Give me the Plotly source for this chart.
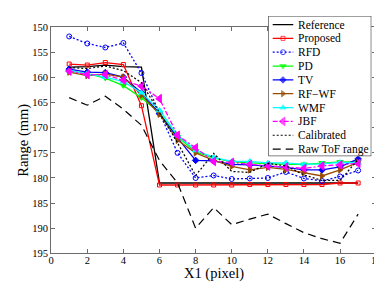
import plotly.graph_objects as go

x_vals = list(range(1, 18))

reference = [157.9, 157.8, 157.5, 157.8, 157.9, 181.0, 181.0, 181.0, 181.0, 181.0, 181.0, 181.0, 181.0, 181.0, 181.0, 181.0, 181.0]
proposed = [157.3, 157.5, 157.0, 157.4, 165.6, 181.4, 181.4, 181.4, 181.4, 181.4, 181.3, 181.3, 181.3, 181.3, 181.3, 181.0, 181.0]
rfd = [151.8, 153.2, 154.0, 153.1, 159.1, 167.0, 175.0, 180.0, 179.5, 180.2, 180.1, 180.0, 178.8, 180.1, 180.6, 179.7, 178.5]
pd_vals = [158.7, 159.2, 160.1, 161.6, 164.0, 167.0, 171.8, 174.8, 176.0, 176.8, 177.0, 177.2, 177.3, 177.3, 177.0, 176.8, 176.8]
tv = [158.3, 158.9, 159.0, 159.9, 163.0, 167.2, 172.0, 176.5, 176.6, 177.3, 177.4, 177.6, 177.9, 178.4, 178.4, 177.8, 176.2]
rfwf = [158.9, 159.6, 159.3, 159.9, 163.5, 167.3, 172.5, 175.0, 176.5, 177.7, 178.4, 177.9, 178.3, 178.9, 179.6, 178.4, 176.9]
wmf = [158.6, 159.2, 159.9, 160.8, 163.0, 166.5, 171.5, 174.5, 175.9, 176.7, 176.7, 177.0, 177.0, 177.3, 177.2, 176.9, 177.0]
jbf = [158.7, 159.4, 159.4, 160.5, 161.7, 164.2, 171.5, 174.0, 176.7, 176.9, 177.3, 177.6, 177.8, 178.1, 177.6, 177.4, 177.1]
calibrated = [158.0, 158.2, 157.7, 158.6, 161.0, 167.0, 173.0, 179.5, 175.1, 178.7, 178.9, 177.1, 177.6, 179.4, 180.5, 180.5, 176.3]
raw_tof = [164.0, 165.5, 163.7, 166.3, 169.5, 176.5, 181.0, 190.0, 185.9, 189.3, 188.2, 187.2, 189.1, 190.9, 192.1, 193.0, 187.2]

series_names = ["Reference", "Proposed", "RFD", "PD", "TV", "RF\u2212WF", "WMF", "JBF", "Calibrated", "Raw ToF range"]
series_values = [reference, proposed, rfd, pd_vals, tv, rfwf, wmf, jbf, calibrated, raw_tof]

x_ticks = [0, 2, 4, 6, 8, 10, 12, 14, 16, 18]
y_ticks = [150, 155, 160, 165, 170, 175, 180, 185, 190, 195]
x_title = "X1 (pixel)"
y_title = "Range (mm)"

BROWN = "#994C00"
styles = [
    dict(color="black", dash="solid", symbol=None, size=0, width=1.3),
    dict(color="#FF0000", dash="solid", symbol="square-open", size=4, width=1.3),
    dict(color="#0000FF", dash="2px,2px", symbol="circle-open", size=5, width=1.3),
    dict(color="#00FF00", dash="solid", symbol="triangle-down", size=5.5, width=1.3),
    dict(color="#0000FF", dash="solid", symbol="diamond", size=5, width=1.3),
    dict(color=BROWN, dash="solid", symbol="triangle-right", size=5.5, width=1.3),
    dict(color="#00FFFF", dash="solid", symbol="triangle-up", size=5.5, width=1.3),
    dict(color="#FF00FF", dash="5px,2px,2px,2px", symbol="triangle-left", size=7.5, width=1.3),
    dict(color="black", dash="2px,2px", symbol=None, size=0, width=1.2),
    dict(color="black", dash="8px,5px", symbol=None, size=0, width=1.2),
]

FONT = "Liberation Serif, Times New Roman, serif"
W, H = 382, 282
L, R, T, B = 41, 373, 15, 250

fig = go.Figure()

for name, vals, st in zip(series_names, series_values, styles):
    mode = "lines+markers" if st["symbol"] else "lines"
    marker = dict(symbol=st["symbol"], size=st["size"], color=st["color"],
                  line=dict(color=st["color"], width=1)) if st["symbol"] else None
    fig.add_trace(go.Scatter(
        x=x_vals, y=vals, name=name, mode=mode,
        line=dict(color=st["color"], width=st["width"], dash=st["dash"]),
        marker=marker, showlegend=False, xaxis="x", yaxis="y",
    ))

# custom legend in a helper subplot (x2/y2)
row_pitch = 14.4
leg_left, leg_right, leg_top, leg_bottom = 263, 368, 3, 149
first_row_px = 12
r_top = -(first_row_px - leg_top) / row_pitch
r_bot = r_top + (leg_bottom - leg_top) / row_pitch

fig.add_shape(type="rect", xref="x2", yref="y2", x0=0, x1=1, y0=r_top, y1=r_bot,
              fillcolor="white", line=dict(color="black", width=1), layer="below")

sx0, sx1 = (267.3 - leg_left) / (leg_right - leg_left), (288.3 - leg_left) / (leg_right - leg_left)
smid = (sx0 + sx1) / 2
tx = (291 - leg_left) / (leg_right - leg_left)
for i, (name, st) in enumerate(zip(series_names, styles)):
    sizes = [0, st["size"], 0] if st["symbol"] else [0, 0, 0]
    fig.add_trace(go.Scatter(
        x=[sx0, smid, sx1], y=[i, i, i], mode="lines+markers" if st["symbol"] else "lines",
        line=dict(color=st["color"], width=st["width"], dash=st["dash"]),
        marker=dict(symbol=st["symbol"] or "circle", size=sizes, color=st["color"],
                    line=dict(color=st["color"], width=1)),
        showlegend=False, hoverinfo="skip", xaxis="x2", yaxis="y2",
    ))
    fig.add_annotation(x=tx, y=i, xref="x2", yref="y2", text=name, showarrow=False,
                       xanchor="left", yanchor="middle",
                       font=dict(family=FONT, size=11.5, color="black"))

# axis titles
fig.add_annotation(x=(L + R) / 2 / W, y=1 - 271.5 / H, xref="paper", yref="paper", text=x_title,
                   showarrow=False, xanchor="center", yanchor="middle",
                   font=dict(family=FONT, size=14.5, color="black"))
fig.add_annotation(x=2 / W, y=1 - (T + B) / 2 / H, xref="paper", yref="paper", text=y_title,
                   showarrow=False, xanchor="left", yanchor="middle", textangle=-90,
                   font=dict(family=FONT, size=14.5, color="black"))

axis_color = "#6b6b6b"
fig.update_layout(
    width=W, height=H,
    margin=dict(l=0, r=0, t=0, b=0),
    paper_bgcolor="white", plot_bgcolor="white",
    font=dict(family=FONT, size=10.5, color="black"),
    showlegend=False,
    xaxis=dict(domain=[L / W, R / W], range=[0, 18], tickvals=x_ticks,
               ticks="inside", ticklen=4, tickcolor=axis_color, showline=True,
               linecolor=axis_color, linewidth=1, mirror="ticks", showgrid=False,
               zeroline=False, tickfont=dict(family=FONT, size=10.5, color="black"),
               ticklabelstandoff=-3, anchor="y"),
    yaxis=dict(domain=[1 - B / H, 1 - T / H], range=[195, 150], tickvals=y_ticks,
               ticks="inside", ticklen=4, tickcolor=axis_color, showline=True,
               linecolor=axis_color, linewidth=1, mirror="ticks", showgrid=False,
               zeroline=False, tickfont=dict(family=FONT, size=10.5, color="black"),
               anchor="x"),
    xaxis2=dict(domain=[leg_left / W, leg_right / W], range=[0, 1], visible=False,
                fixedrange=True, anchor="y2"),
    yaxis2=dict(domain=[1 - leg_bottom / H, 1 - leg_top / H], range=[r_bot, r_top], visible=False,
                fixedrange=True, anchor="x2"),
)

fig.write_html("out.html")
